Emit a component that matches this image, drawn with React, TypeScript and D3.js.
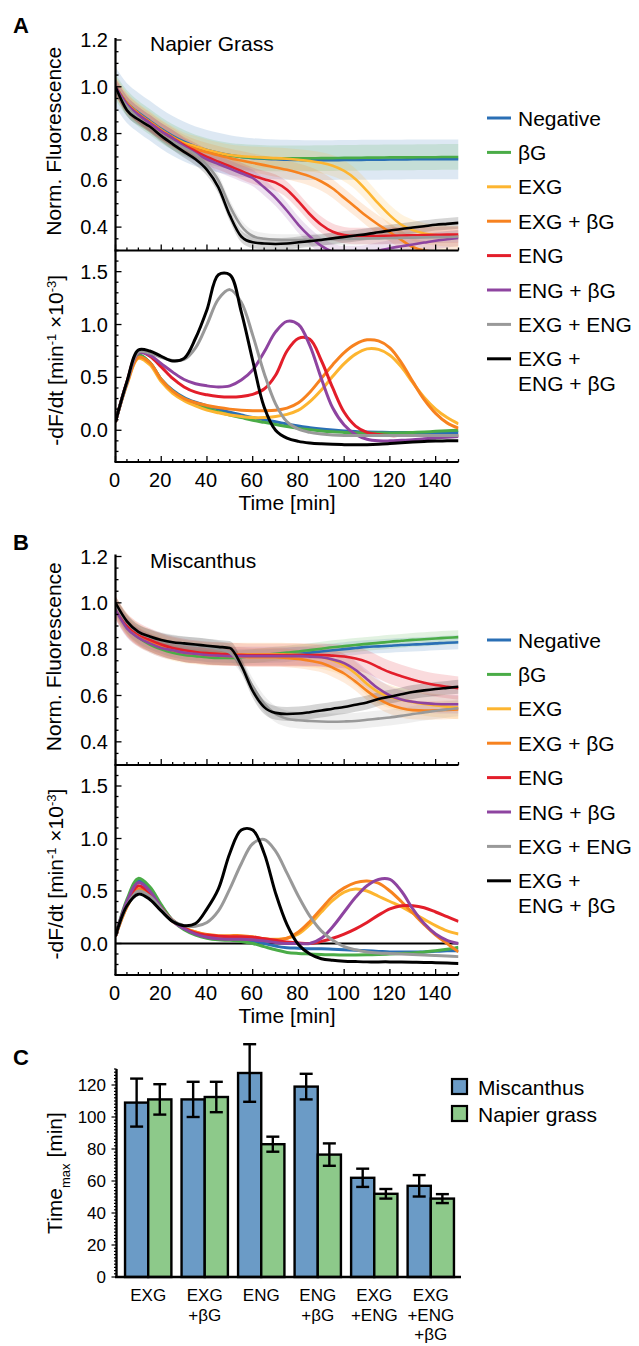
import React from 'react';
import * as d3 from 'd3';

// time grid of the kinetics traces [min]
const time = [0, 5, 10, 15, 20, 25, 30, 35, 40, 45, 50, 55, 60, 65, 70, 75, 80, 85, 90, 95, 100, 105, 110, 115, 120, 125, 130, 135, 140, 145, 150];

const seriesNames = ['Negative', 'βG', 'EXG', 'EXG + βG', 'ENG', 'ENG + βG', 'EXG + ENG', 'EXG +\nENG + βG'];
const seriesColors = ['#2a6fb5', '#4aac47', '#fdb530', '#f7821f', '#e31e2a', '#8e44a0', '#999999', '#000000'];

// --- A: Napier grass, normalised fluorescence
const aNegF = [1.0, 0.93, 0.89, 0.855, 0.82, 0.79, 0.765, 0.745, 0.73, 0.718, 0.708, 0.7, 0.695, 0.692, 0.69, 0.688, 0.687, 0.686, 0.686, 0.686, 0.687, 0.687, 0.688, 0.688, 0.689, 0.689, 0.69, 0.69, 0.69, 0.69, 0.69];
const aBgF = [1.0, 0.93, 0.885, 0.85, 0.815, 0.785, 0.76, 0.74, 0.725, 0.713, 0.705, 0.7, 0.697, 0.695, 0.694, 0.694, 0.694, 0.694, 0.695, 0.695, 0.696, 0.696, 0.697, 0.697, 0.698, 0.698, 0.698, 0.699, 0.699, 0.7, 0.7];
const aExgF = [1.0, 0.93, 0.885, 0.85, 0.815, 0.785, 0.76, 0.745, 0.73, 0.718, 0.708, 0.703, 0.7, 0.697, 0.695, 0.692, 0.688, 0.683, 0.675, 0.662, 0.64, 0.605, 0.555, 0.5, 0.45, 0.41, 0.387, 0.373, 0.366, 0.362, 0.36];
const aExgBgF = [1.0, 0.93, 0.885, 0.85, 0.815, 0.785, 0.755, 0.735, 0.72, 0.707, 0.695, 0.685, 0.675, 0.665, 0.655, 0.645, 0.632, 0.617, 0.595, 0.565, 0.525, 0.485, 0.445, 0.41, 0.378, 0.345, 0.315, 0.3, 0.295, 0.295, 0.295];
const aEngF = [1.0, 0.925, 0.88, 0.845, 0.81, 0.78, 0.75, 0.725, 0.7, 0.68, 0.66, 0.64, 0.62, 0.605, 0.59, 0.56, 0.51, 0.455, 0.41, 0.38, 0.366, 0.362, 0.362, 0.362, 0.363, 0.364, 0.365, 0.366, 0.367, 0.368, 0.368];
const aEngBgF = [1.0, 0.925, 0.88, 0.845, 0.81, 0.78, 0.745, 0.715, 0.69, 0.67, 0.65, 0.63, 0.61, 0.57, 0.525, 0.47, 0.41, 0.36, 0.32, 0.295, 0.285, 0.285, 0.29, 0.3, 0.31, 0.318, 0.326, 0.334, 0.342, 0.348, 0.354];
const aExgEngF = [0.99, 0.915, 0.865, 0.83, 0.795, 0.765, 0.738, 0.71, 0.665, 0.6, 0.49, 0.405, 0.362, 0.35, 0.346, 0.345, 0.345, 0.346, 0.347, 0.348, 0.349, 0.35, 0.351, 0.352, 0.353, 0.354, 0.355, 0.356, 0.357, 0.358, 0.36];
const aAllF = [1.0, 0.9, 0.86, 0.83, 0.79, 0.755, 0.722, 0.69, 0.645, 0.57, 0.45, 0.36, 0.335, 0.33, 0.328, 0.33, 0.335, 0.34, 0.345, 0.352, 0.358, 0.364, 0.37, 0.378, 0.385, 0.392, 0.398, 0.404, 0.41, 0.414, 0.418];
const aBandSd = [0.085, 0.055, 0.045, 0.04, 0.035, 0.035, 0.025, 0.025];

// --- A: Napier grass, -dF/dt
const aNegD = [0.08, 0.45, 0.71, 0.64, 0.48, 0.38, 0.31, 0.265, 0.23, 0.2, 0.17, 0.145, 0.12, 0.1, 0.08, 0.06, 0.04, 0.025, 0.012, 0.002, -0.006, -0.012, -0.016, -0.018, -0.02, -0.02, -0.02, -0.02, -0.02, -0.02, -0.02];
const aBgD = [0.08, 0.45, 0.71, 0.64, 0.48, 0.37, 0.3, 0.25, 0.21, 0.175, 0.145, 0.12, 0.095, 0.075, 0.055, 0.035, 0.018, 0.005, -0.007, -0.015, -0.02, -0.024, -0.025, -0.025, -0.025, -0.024, -0.02, -0.016, -0.01, -0.005, 0.0];
const aExgD = [0.08, 0.43, 0.68, 0.62, 0.46, 0.35, 0.28, 0.23, 0.19, 0.165, 0.145, 0.13, 0.12, 0.12, 0.13, 0.15, 0.19, 0.27, 0.38, 0.51, 0.63, 0.72, 0.77, 0.765, 0.71, 0.6, 0.45, 0.31, 0.2, 0.12, 0.06];
const aExgBgD = [0.08, 0.44, 0.69, 0.64, 0.48, 0.37, 0.3, 0.26, 0.235, 0.215, 0.2, 0.19, 0.185, 0.185, 0.19, 0.21, 0.26, 0.36, 0.49, 0.62, 0.735, 0.815, 0.855, 0.845, 0.78, 0.64, 0.46, 0.29, 0.16, 0.07, 0.02];
const aEngD = [0.08, 0.46, 0.74, 0.7, 0.6, 0.49, 0.41, 0.36, 0.335, 0.32, 0.315, 0.32, 0.34, 0.39, 0.52, 0.75, 0.87, 0.86, 0.66, 0.4, 0.17, 0.04, -0.02, -0.04, -0.05, -0.05, -0.05, -0.05, -0.05, -0.05, -0.05];
const aEngBgD = [0.08, 0.45, 0.73, 0.71, 0.63, 0.55, 0.48, 0.44, 0.42, 0.41, 0.42, 0.475, 0.57, 0.74, 0.93, 1.03, 1.0, 0.8, 0.49, 0.21, 0.05, -0.04, -0.085, -0.1, -0.1, -0.095, -0.09, -0.08, -0.072, -0.065, -0.06];
const aExgEngD = [0.08, 0.45, 0.74, 0.73, 0.69, 0.66, 0.67, 0.78, 1.0, 1.24, 1.33, 1.21, 0.9, 0.54, 0.25, 0.08, 0.01, -0.02, -0.035, -0.045, -0.05, -0.05, -0.05, -0.05, -0.05, -0.05, -0.05, -0.05, -0.05, -0.05, -0.05];
const aAllD = [0.08, 0.46, 0.76, 0.75, 0.7, 0.655, 0.68, 0.87, 1.14, 1.47, 1.47, 1.12, 0.66, 0.22, 0.0, -0.075, -0.105, -0.12, -0.128, -0.133, -0.136, -0.137, -0.136, -0.132, -0.125, -0.117, -0.11, -0.105, -0.102, -0.1, -0.1];

// --- B: Miscanthus, normalised fluorescence
const bNegF = [0.98, 0.9, 0.855, 0.83, 0.81, 0.795, 0.785, 0.78, 0.775, 0.772, 0.77, 0.77, 0.77, 0.77, 0.772, 0.775, 0.78, 0.785, 0.79, 0.795, 0.8, 0.805, 0.81, 0.812, 0.815, 0.818, 0.82, 0.822, 0.825, 0.828, 0.83];
const bBgF = [0.98, 0.895, 0.85, 0.82, 0.8, 0.785, 0.775, 0.77, 0.765, 0.762, 0.762, 0.765, 0.77, 0.775, 0.78, 0.785, 0.79, 0.796, 0.802, 0.808, 0.813, 0.818, 0.823, 0.827, 0.832, 0.836, 0.84, 0.843, 0.846, 0.849, 0.852];
const bExgF = [0.98, 0.905, 0.86, 0.835, 0.815, 0.8, 0.79, 0.785, 0.78, 0.779, 0.778, 0.778, 0.778, 0.778, 0.778, 0.777, 0.776, 0.772, 0.766, 0.752, 0.73, 0.695, 0.65, 0.615, 0.595, 0.582, 0.572, 0.563, 0.557, 0.552, 0.548];
const bExgBgF = [0.98, 0.9, 0.855, 0.83, 0.81, 0.795, 0.785, 0.78, 0.775, 0.772, 0.77, 0.768, 0.765, 0.765, 0.765, 0.762, 0.758, 0.75, 0.74, 0.72, 0.695, 0.66, 0.62, 0.585, 0.56, 0.545, 0.537, 0.535, 0.536, 0.538, 0.54];
const bEngF = [0.98, 0.905, 0.865, 0.84, 0.82, 0.805, 0.795, 0.788, 0.783, 0.78, 0.778, 0.776, 0.775, 0.775, 0.775, 0.775, 0.775, 0.775, 0.775, 0.772, 0.768, 0.76, 0.745, 0.722, 0.7, 0.683, 0.668, 0.655, 0.645, 0.638, 0.632];
const bEngBgF = [0.97, 0.89, 0.85, 0.825, 0.805, 0.795, 0.785, 0.78, 0.775, 0.772, 0.77, 0.77, 0.77, 0.77, 0.77, 0.77, 0.77, 0.768, 0.765, 0.755, 0.74, 0.71, 0.67, 0.63, 0.6, 0.583, 0.573, 0.567, 0.563, 0.562, 0.562];
const bExgEngF = [0.99, 0.915, 0.872, 0.852, 0.838, 0.828, 0.82, 0.815, 0.81, 0.8, 0.785, 0.73, 0.64, 0.565, 0.52, 0.5, 0.493, 0.49, 0.488, 0.487, 0.488, 0.49, 0.495, 0.5, 0.505, 0.512, 0.52, 0.527, 0.534, 0.54, 0.545];
const bAllF = [1.0, 0.92, 0.875, 0.855, 0.84, 0.83, 0.825, 0.82, 0.815, 0.81, 0.805, 0.73, 0.62, 0.55, 0.525, 0.52, 0.522, 0.528, 0.535, 0.543, 0.55, 0.56, 0.57, 0.585, 0.595, 0.605, 0.615, 0.622, 0.628, 0.633, 0.638];
const bBandSd = [0.03, 0.03, 0.05, 0.04, 0.05, 0.04, 0.035, 0.03];

// --- B: Miscanthus, -dF/dt
const bNegD = [0.07, 0.4, 0.6, 0.52, 0.36, 0.22, 0.14, 0.09, 0.06, 0.045, 0.04, 0.035, 0.025, 0.0, -0.025, -0.04, -0.045, -0.05, -0.05, -0.055, -0.06, -0.065, -0.07, -0.075, -0.08, -0.08, -0.08, -0.08, -0.075, -0.07, -0.07];
const bBgD = [0.07, 0.42, 0.62, 0.54, 0.37, 0.22, 0.13, 0.08, 0.05, 0.035, 0.03, 0.02, 0.0, -0.03, -0.06, -0.085, -0.095, -0.1, -0.105, -0.108, -0.11, -0.11, -0.108, -0.105, -0.1, -0.095, -0.09, -0.08, -0.07, -0.055, -0.035];
const bExgD = [0.07, 0.35, 0.51, 0.45, 0.32, 0.21, 0.15, 0.11, 0.08, 0.065, 0.06, 0.06, 0.055, 0.045, 0.04, 0.05, 0.09, 0.18, 0.3, 0.41, 0.49, 0.52, 0.5, 0.45, 0.4, 0.35, 0.29, 0.23, 0.17, 0.12, 0.09];
const bExgBgD = [0.07, 0.35, 0.52, 0.46, 0.33, 0.22, 0.15, 0.11, 0.085, 0.075, 0.075, 0.075, 0.065, 0.045, 0.035, 0.05, 0.11, 0.21, 0.33, 0.45, 0.53, 0.58, 0.595, 0.575, 0.5, 0.4, 0.29, 0.18, 0.08, 0.0, -0.08];
const bEngD = [0.07, 0.38, 0.55, 0.48, 0.34, 0.22, 0.15, 0.1, 0.08, 0.07, 0.065, 0.065, 0.06, 0.045, 0.03, 0.015, 0.005, 0.0, 0.02, 0.05, 0.09, 0.14, 0.2, 0.27, 0.33, 0.36, 0.36, 0.34, 0.3, 0.255, 0.21];
const bEngBgD = [0.07, 0.4, 0.58, 0.5, 0.34, 0.21, 0.14, 0.09, 0.06, 0.045, 0.04, 0.04, 0.035, 0.025, 0.01, 0.0, 0.0, 0.0, 0.05, 0.16, 0.3, 0.44, 0.55, 0.61, 0.61, 0.5, 0.33, 0.19, 0.09, 0.03, 0.0];
const bExgEngD = [0.07, 0.36, 0.5, 0.45, 0.33, 0.22, 0.17, 0.165, 0.2, 0.31, 0.52, 0.76, 0.95, 0.99, 0.88, 0.67, 0.45, 0.26, 0.12, 0.03, -0.03, -0.06, -0.08, -0.09, -0.095, -0.1, -0.105, -0.11, -0.115, -0.12, -0.125];
const bAllD = [0.07, 0.36, 0.47, 0.42, 0.31, 0.21, 0.17, 0.19, 0.33, 0.52, 0.86, 1.08, 1.08, 0.86, 0.48, 0.18, -0.01, -0.1, -0.145, -0.16, -0.168, -0.172, -0.175, -0.175, -0.175, -0.176, -0.178, -0.18, -0.183, -0.186, -0.19];

// --- C: time of maximal rate
const barCategories = ['EXG', 'EXG\n+βG', 'ENG', 'ENG\n+βG', 'EXG\n+ENG', 'EXG\n+ENG\n+βG'];
const barGroups = ['Miscanthus', 'Napier grass'];
const barColors = ['#6b9bc6', '#8dc98a'];
const miscanthusTmax = [109, 111, 127.5, 119, 62, 57];
const miscanthusErr = [15, 11, 18, 8, 5.7, 6.7];
const napierTmax = [111, 112.5, 83, 76.5, 52, 49];
const napierErr = [9.5, 9.5, 4.7, 7, 3, 2.8];

const xTicks = [0, 20, 40, 60, 80, 100, 120, 140];
const fluorTicks = [0.4, 0.6, 0.8, 1.0, 1.2];
const derivTicks = [0.0, 0.5, 1.0, 1.5];
const barTicks = [0, 20, 40, 60, 80, 100, 120];

const FONT = '"Liberation Sans", Arial, Helvetica, sans-serif';

type PanelProps = {
  id: string;
  letter: string;
  title: string;
  fluor: number[][];
  sd: number[];
  deriv: number[][];
  yTop: number;
  yMid: number;
  yBottom: number;
  legendTop: number;
  zeroLine: boolean;
};

function KineticsPanel({ id, letter, title, fluor, sd, deriv, yTop, yMid, yBottom, legendTop, zeroLine }: PanelProps) {
  const x0 = 115.5;
  const x1 = 458.5;
  const x = d3.scaleLinear().domain([0, 150]).range([x0, x1]);
  const yF = d3.scaleLinear().domain([0.3, 1.2]).range([yMid, yTop]);
  const yD = d3.scaleLinear().domain([-0.3, 1.7]).range([yBottom, yMid]);

  const fLine = d3.line<number>().x((_, i) => x(time[i])).y((d) => yF(d)).curve(d3.curveMonotoneX);
  const dLine = d3.line<number>().x((_, i) => x(time[i])).y((d) => yD(d)).curve(d3.curveCatmullRom.alpha(0.5));

  const minorX = d3.range(0, 151, 5);
  const minorF = d3.range(0.3, 1.2001, 0.05);
  const minorD = d3.range(-0.3, 1.7001, 0.1);

  return (
    <g fontFamily={FONT}>
      <defs>
        <clipPath id={`${id}-top`}>
          <rect x={x0} y={yTop - 20} width={x1 - x0} height={yMid - yTop + 20} />
        </clipPath>
        <clipPath id={`${id}-bot`}>
          <rect x={x0} y={yMid} width={x1 - x0} height={yBottom - yMid} />
        </clipPath>
      </defs>

      <text x={13} y={yTop - 7} fontSize={22} fontWeight="bold">{letter}</text>
      <text x={150} y={yTop + 11} fontSize={21}>{title}</text>

      {/* fluorescence bands and traces */}
      <g clipPath={`url(#${id}-top)`}>
        {fluor.map((s, k) => {
          const band = d3
            .area<number>()
            .x((_, i) => x(time[i]))
            .y0((d) => yF(d - sd[k]))
            .y1((d) => yF(d + sd[k]))
            .curve(d3.curveMonotoneX);
          return <path key={k} d={band(s) ?? ''} fill={seriesColors[k]} fillOpacity={0.16} />;
        })}
        {fluor.map((s, k) => (
          <path key={k} d={fLine(s) ?? ''} fill="none" stroke={seriesColors[k]} strokeWidth={2.6} />
        ))}
      </g>

      {/* derivative traces */}
      <g clipPath={`url(#${id}-bot)`}>
        {zeroLine && <line x1={x0} x2={x1} y1={yD(0)} y2={yD(0)} stroke="#000" strokeWidth={2} />}
        {deriv.map((s, k) => (
          <path key={k} d={dLine(s) ?? ''} fill="none" stroke={seriesColors[k]} strokeWidth={3} strokeLinejoin="round" />
        ))}
      </g>

      {/* frame */}
      <g stroke="#000">
        <line x1={x0} x2={x0} y1={yTop - 2} y2={yBottom} strokeWidth={2.2} />
        <line x1={x0 - 1} x2={x1} y1={yMid} y2={yMid} strokeWidth={2.2} />
        <line x1={x0 - 1} x2={x1} y1={yBottom} y2={yBottom} strokeWidth={2.2} />
        {minorX.map((t) => {
          const len = t % 20 === 0 ? 6 : 3;
          return (
            <g key={t}>
              <line x1={x(t)} x2={x(t)} y1={yMid} y2={yMid - len} strokeWidth={1.3} />
              <line x1={x(t)} x2={x(t)} y1={yBottom} y2={yBottom - len} strokeWidth={1.3} />
            </g>
          );
        })}
        {minorF.map((v, i) => (
          <line key={`f${i}`} x1={x0} x2={x0 + (i % 4 === 2 ? 6 : 3)} y1={yF(v)} y2={yF(v)} strokeWidth={1.3} />
        ))}
        {minorD.map((v, i) => (
          <line key={`d${i}`} x1={x0} x2={x0 + (i % 5 === 3 ? 6 : 3)} y1={yD(v)} y2={yD(v)} strokeWidth={1.3} />
        ))}
      </g>

      {/* tick labels */}
      <g fontSize={20} textAnchor="end">
        {fluorTicks.map((v) => (
          <text key={v} x={108} y={yF(v)} dy="0.35em">{v.toFixed(1)}</text>
        ))}
        {derivTicks.map((v) => (
          <text key={v} x={108} y={yD(v)} dy="0.35em">{v.toFixed(1)}</text>
        ))}
      </g>
      <g fontSize={20} textAnchor="middle">
        {xTicks.map((t) => (
          <text key={t} x={x(t) - 1} y={yBottom + 25}>{t}</text>
        ))}
        <text x={(x0 + x1) / 2} y={yBottom + 48} fontSize={21}>Time [min]</text>
      </g>

      {/* axis titles */}
      <text
        transform={`translate(54,${(yTop + yMid) / 2 - 4}) rotate(-90)`}
        textAnchor="middle"
        dy="0.35em"
        fontSize={21}
      >
        Norm. Fluorescence
      </text>
      <text
        transform={`translate(56,${(yMid + yBottom) / 2 + 4}) rotate(-90)`}
        textAnchor="middle"
        dy="0.35em"
        fontSize={21}
      >
        -dF/dt [min
        <tspan fontSize={13} baselineShift="super">-1</tspan>
        <tspan> ×10</tspan>
        <tspan fontSize={13} baselineShift="super">-3</tspan>
        <tspan>]</tspan>
      </text>

      {/* legend */}
      <g fontSize={21}>
        {seriesNames.map((name, k) => {
          const cy = legendTop + k * 34.4;
          const lines = name.split('\n');
          return (
            <g key={name}>
              <line x1={487} x2={511} y1={cy} y2={cy} stroke={seriesColors[k]} strokeWidth={3} />
              {lines.map((ln, j) => (
                <text key={j} x={518} y={cy + j * 25} dy="0.36em">{ln}</text>
              ))}
            </g>
          );
        })}
      </g>
    </g>
  );
}

function TmaxBars() {
  const yBase = 1277;
  const x0 = d3.scaleBand<string>().domain(barCategories).range([116, 463]).paddingInner(0.18).paddingOuter(0.16);
  const x1 = d3.scaleBand<string>().domain(barGroups).range([0, x0.bandwidth()]);
  const y = d3.scaleLinear().domain([0, 130]).range([yBase, 1069]);
  const values = [miscanthusTmax, napierTmax];
  const errs = [miscanthusErr, napierErr];
  const minor = d3.range(0, 131, 2);

  return (
    <g fontFamily={FONT}>
      <text x={13} y={1065} fontSize={22} fontWeight="bold">C</text>

      {barCategories.map((cat, i) => (
        <g key={cat} transform={`translate(${x0(cat)},0)`}>
          {barGroups.map((grp, g) => {
            const v = values[g][i];
            const e = errs[g][i];
            const bx = x1(grp) ?? 0;
            const cx = bx + x1.bandwidth() / 2;
            return (
              <g key={grp}>
                <rect x={bx} y={y(v)} width={x1.bandwidth()} height={yBase - y(v)} fill={barColors[g]} stroke="#000" strokeWidth={2.4} />
                <g stroke="#000" strokeWidth={2.4}>
                  <line x1={cx} x2={cx} y1={y(v + e)} y2={y(v - e)} />
                  <line x1={cx - 6.5} x2={cx + 6.5} y1={y(v + e)} y2={y(v + e)} />
                  <line x1={cx - 6.5} x2={cx + 6.5} y1={y(v - e)} y2={y(v - e)} />
                </g>
              </g>
            );
          })}
        </g>
      ))}

      <g stroke="#000">
        <line x1={116.5} x2={116.5} y1={1069} y2={yBase} strokeWidth={2.4} />
        <line x1={115} x2={461} y1={yBase} y2={yBase} strokeWidth={2.4} />
        {minor.map((v) => (
          <line key={v} x1={116.5} x2={116.5 - (v % 20 === 0 ? 5 : 2.5)} y1={y(v)} y2={y(v)} strokeWidth={1.2} />
        ))}
      </g>

      <g fontSize={17} textAnchor="end">
        {barTicks.map((v) => (
          <text key={v} x={106} y={y(v)} dy="0.35em">{v}</text>
        ))}
      </g>

      <g fontSize={17} textAnchor="middle">
        {barCategories.map((cat) => {
          const cx = (x0(cat) ?? 0) + x0.bandwidth() / 2;
          return (
            <text key={cat} x={cx} y={1301}>
              {cat.split('\n').map((ln, j) => (
                <tspan key={j} x={cx} dy={j === 0 ? 0 : 19.5}>{ln}</tspan>
              ))}
            </text>
          );
        })}
      </g>

      <text transform="translate(55,1173) rotate(-90)" textAnchor="middle" dy="0.35em" fontSize={21}>
        Time<tspan fontSize={13} baselineShift="sub">max</tspan>
        <tspan> [min]</tspan>
      </text>

      <g fontSize={21}>
        {barGroups.map((grp, g) => (
          <g key={grp}>
            <rect x={452} y={1079 + g * 27} width={15} height={15} fill={barColors[g]} stroke="#000" strokeWidth={2.2} />
            <text x={478} y={1087 + g * 27} dy="0.36em">{grp}</text>
          </g>
        ))}
      </g>
    </g>
  );
}

export default function App() {
  return (
    <svg
      width={639}
      height={1346}
      viewBox="0 0 639 1346"
      style={{ position: 'absolute', left: 0, top: 0, background: '#fff' }}
    >
      <rect width={639} height={1346} fill="#fff" />
      <KineticsPanel
        id="napier"
        letter="A"
        title="Napier Grass"
        fluor={[aNegF, aBgF, aExgF, aExgBgF, aEngF, aEngBgF, aExgEngF, aAllF]}
        sd={aBandSd}
        deriv={[aNegD, aBgD, aExgD, aExgBgD, aEngD, aEngBgD, aExgEngD, aAllD]}
        yTop={40}
        yMid={250.5}
        yBottom={462}
        legendTop={118}
        zeroLine={false}
      />
      <KineticsPanel
        id="misc"
        letter="B"
        title="Miscanthus"
        fluor={[bNegF, bBgF, bExgF, bExgBgF, bEngF, bEngBgF, bExgEngF, bAllF]}
        sd={bBandSd}
        deriv={[bNegD, bBgD, bExgD, bExgBgD, bEngD, bEngBgD, bExgEngD, bAllD]}
        yTop={556.5}
        yMid={765}
        yBottom={975}
        legendTop={640}
        zeroLine={true}
      />
      <TmaxBars />
    </svg>
  );
}
